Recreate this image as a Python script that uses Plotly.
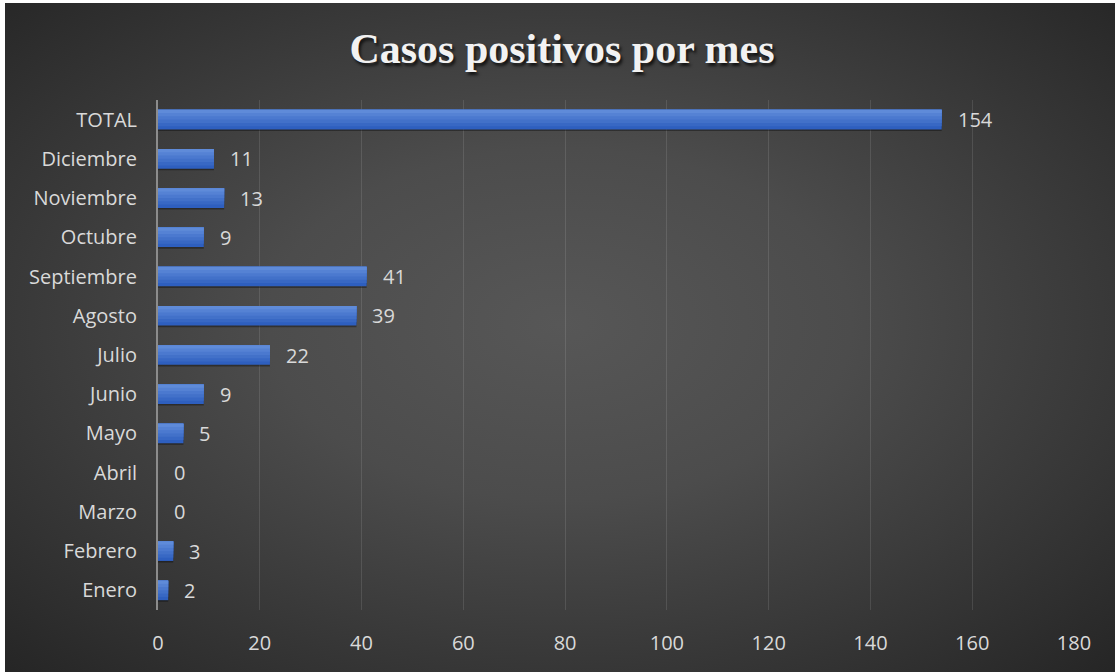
import base64
import plotly.graph_objects as go

# Monthly positive cases, bottom-to-top order on the category axis
meses = ["Enero", "Febrero", "Marzo", "Abril", "Mayo", "Junio", "Julio",
         "Agosto", "Septiembre", "Octubre", "Noviembre", "Diciembre", "TOTAL"]
casos = [2, 3, 0, 0, 5, 9, 22, 39, 41, 9, 13, 11, 154]
x_ticks = [0, 20, 40, 60, 80, 100, 120, 140, 160, 180]

W, H = 1115, 672
L, R, T, B = 158, 41, 100, 62
plot_w = W - L - R
plot_h = H - T - B

label_font = dict(family="Open Sans, sans-serif", size=20, color="#d9d9d9")

# Radial dark background as an SVG image
svg = f"""<svg xmlns='http://www.w3.org/2000/svg' width='{W}' height='{H}' preserveAspectRatio='none' viewBox='0 0 {W} {H}'>
<defs><radialGradient id='g' cx='50%' cy='48%' r='75%'>
<stop offset='0%' stop-color='#575757'/><stop offset='35%' stop-color='#4c4c4c'/>
<stop offset='100%' stop-color='#232323'/>
</radialGradient></defs>
<rect width='{W}' height='{H}' fill='url(#g)'/></svg>"""
bg_src = "data:image/svg+xml;base64," + base64.b64encode(svg.encode()).decode()

# Background panel extent in paper coordinates (slight white frame at top/left)
px0, py0 = 5, 3
bg_x = (px0 - L) / plot_w
bg_y = (H - B - py0) / plot_h
bg_sx = (W - px0) / plot_w
bg_sy = (H - py0) / plot_h

fig = go.Figure()

BAR_W = 0.5

# Soft drop shadow under the bars
fig.add_trace(go.Bar(
    x=casos, y=meses, orientation="h",
    marker=dict(color="rgba(0,0,0,0.35)", line=dict(width=0)),
    offset=-BAR_W / 2 - 0.04, width=BAR_W, hoverinfo="skip", showlegend=False,
))


def mix(c1, c2, t):
    return "#" + "".join(f"{round(a + (b - a) * t):02x}" for a, b in zip(c1, c2))


# Vertical blue gradient on each bar: nested layers, each starting a bit
# higher and a bit lighter, all ending at the top edge of the bar
bottom_rgb, top_rgb = (0x2e, 0x5f, 0xbf), (0x5f, 0x8b, 0xd9)
n_layers = 6
step = BAR_W / n_layers
for k in range(n_layers):
    fig.add_trace(go.Bar(
        x=casos, y=meses, orientation="h",
        marker=dict(color=mix(bottom_rgb, top_rgb, k / (n_layers - 1)), line=dict(width=0)),
        offset=-BAR_W / 2 + k * step, width=BAR_W - k * step,
        hoverinfo="x+y" if k == 0 else "skip", showlegend=False,
    ))

annotations = [
    dict(x=v, y=m, xref="x", yref="y", text=str(v), showarrow=False,
         xanchor="left", yanchor="middle", xshift=14, font=label_font)
    for m, v in zip(meses, casos)
]

fig.update_layout(
    width=W, height=H,
    margin=dict(l=L, r=R, t=T, b=B, pad=0),
    paper_bgcolor="#ffffff",
    plot_bgcolor="rgba(0,0,0,0)",
    barmode="overlay",
    title=dict(
        text="<b>Casos positivos por mes</b>",
        x=0.504, xref="container", xanchor="center",
        y=1 - 48 / H, yref="container", yanchor="middle",
        font=dict(family="Liberation Serif, Times New Roman, serif", size=42,
                  color="#f2f2f2", shadow="2px 3px 3px rgba(0,0,0,0.7)"),
    ),
    images=[dict(source=bg_src, xref="paper", yref="paper",
                 x=bg_x, y=bg_y, sizex=bg_sx, sizey=bg_sy,
                 xanchor="left", yanchor="top", sizing="stretch", layer="below")],
    xaxis=dict(
        range=[0, 180], tickvals=x_ticks, ticktext=[str(t) for t in x_ticks],
        showgrid=True, gridcolor="rgba(255,255,255,0.11)", gridwidth=1,
        zeroline=False, showline=False, ticks="",
        tickfont=label_font, ticklabelstandoff=19, fixedrange=True,
    ),
    yaxis=dict(
        categoryorder="array", categoryarray=meses,
        showgrid=False, zeroline=False,
        showline=True, linecolor="#8c8c8c", linewidth=2,
        ticks="", tickfont=label_font, ticklabelstandoff=15, fixedrange=True,
    ),
    annotations=annotations,
    showlegend=False,
)

fig.write_html("out.html")
